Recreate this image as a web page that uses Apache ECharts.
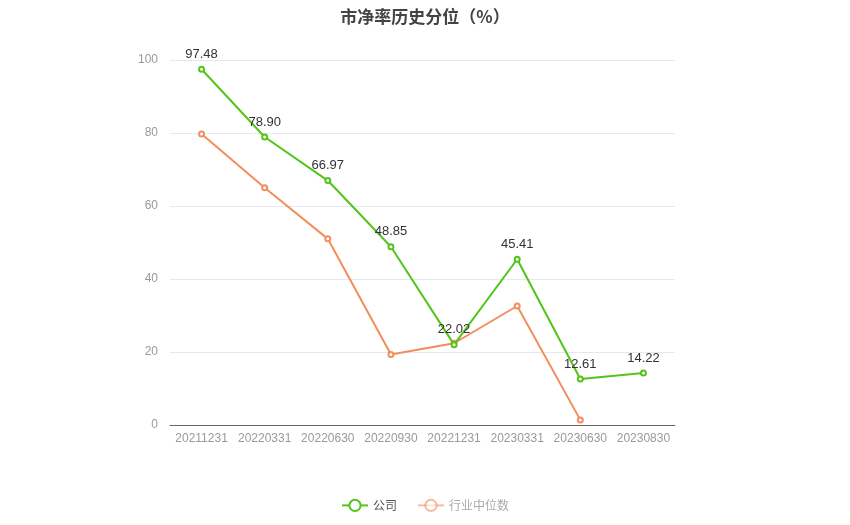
<!DOCTYPE html>
<html style="height: 100%">
<head>
    <meta charset="utf-8">
    <title>ECharts</title>
    <script src="https://cdn.jsdelivr.net/npm/echarts@6/dist/echarts.min.js"></script>
</head>
<body style="height: 100%; margin: 0">
<div id="main" style="width: 850px; height: 525px"></div>
<script type="text/javascript">

    // 数据
    var dates = ['20211231', '20220331', '20220630', '20220930', '20221231', '20230331', '20230630', '20230830'];
    var company = [97.48, 78.90, 66.97, 48.85, 22.02, 45.41, 12.61, 14.22];
    var industry = [79.7, 65.0, 51.0, 19.3, 22.4, 32.6, 1.4, null];

    var myChart = echarts.init(document.getElementById('main'));

    var option = {
        title: {
            text: '市净率历史分位（%）',
            left: 'center',
            top: 3,
            textStyle: {
                fontSize: 17,
                fontWeight: 'bold',
                color: '#444',
                fontFamily: 'Noto Sans CJK SC'
            }
        },
        legend: {
            bottom: 8,
            left: 'center',
            itemWidth: 26,
            itemHeight: 14,
            itemGap: 20,
            textStyle: { color: '#555', fontSize: 12, fontFamily: 'Noto Sans CJK SC' },
            data: [
                { name: '公司' },
                { name: '行业中位数', textStyle: { color: '#aaa' }, itemStyle: { opacity: 0.6 }, lineStyle: { opacity: 0.6 } }
            ]
        },
        grid: {
            left: 170,
            right: 175,
            top: 60,
            bottom: 100
        },
        xAxis: {
            type: 'category',
            data: dates,
            axisLine: { lineStyle: { color: '#666' } },
            axisTick: { alignWithLabel: true, lineStyle: { color: '#666' } },
            axisLabel: { color: '#999', fontSize: 12, margin: 8, interval: 0 }
        },
        yAxis: {
            type: 'value',
            min: 0,
            max: 100,
            interval: 20,
            axisLine: { show: false },
            axisTick: { show: false },
            axisLabel: { color: '#999', fontSize: 12, margin: 12 },
            splitLine: { lineStyle: { color: '#e6e8ef' } }
        },
        series: [
            {
                name: '公司',
                type: 'line',
                data: company,
                symbol: 'emptyCircle',
                symbolSize: 5,
                itemStyle: { color: '#52c41a' },
                lineStyle: { width: 2, color: '#52c41a' },
                label: {
                    show: true,
                    position: 'top',
                    color: '#333',
                    fontSize: 13,
                    formatter: function (p) { return p.value.toFixed(2); }
                },
                z: 3
            },
            {
                name: '行业中位数',
                type: 'line',
                data: industry,
                symbol: 'emptyCircle',
                symbolSize: 5,
                itemStyle: { color: '#f28e5e' },
                lineStyle: { width: 2, color: '#f28e5e' },
                z: 2
            }
        ]
    };

    myChart.setOption(option);
</script>
</body>
</html>
